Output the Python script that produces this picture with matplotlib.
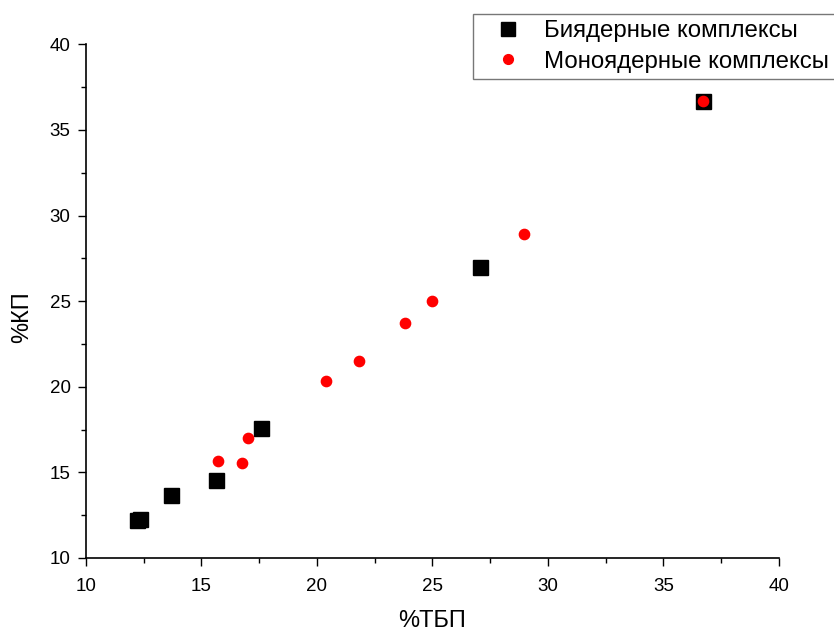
import matplotlib
matplotlib.use("Agg")
import matplotlib.pyplot as plt
from matplotlib.ticker import MultipleLocator

plt.rcParams['font.family'] = ['Liberation Sans', 'DejaVu Sans']

# Data
bi_x = [12.2, 12.35, 13.7, 15.65, 17.6, 27.05, 36.7]
bi_y = [12.2, 12.3, 13.65, 14.55, 17.6, 27.0, 36.7]
mono_x = [15.7, 16.75, 17.0, 20.4, 21.8, 23.8, 25.0, 28.95, 36.7]
mono_y = [15.65, 15.55, 17.0, 20.35, 21.5, 23.75, 25.0, 28.95, 36.7]

label_bi = "Биядерные комплексы"
label_mono = "Моноядерные комплексы"
xlabel = "%ТБП"
ylabel = "%КП"

fig = plt.figure(figsize=(8.34, 6.33), dpi=100)
ax = fig.add_axes([0.103, 0.1185, 0.831, 0.8115])

ax.plot(bi_x, bi_y, linestyle='none', marker='s', markersize=10.8,
        color='black', label=label_bi, zorder=2)
ax.plot(mono_x, mono_y, linestyle='none', marker='o', markersize=7.4,
        color='#ff0000', label=label_mono, zorder=3)

ax.set_xlim(10, 40)
ax.set_ylim(10, 40)
ax.xaxis.set_major_locator(MultipleLocator(5))
ax.yaxis.set_major_locator(MultipleLocator(5))
ax.xaxis.set_minor_locator(MultipleLocator(2.5))
ax.yaxis.set_minor_locator(MultipleLocator(2.5))

for s in ['top', 'right']:
    ax.spines[s].set_visible(False)
for s in ['left', 'bottom']:
    ax.spines[s].set_linewidth(1.2)
ax.tick_params(which='major', direction='out', length=6, width=1.0, labelsize=13.5)
ax.tick_params(axis='x', which='major', pad=8.5)
ax.tick_params(axis='y', which='major', pad=5)
ax.tick_params(which='minor', direction='out', length=3.5, width=1.0)

ax.set_xlabel(xlabel, fontsize=17, labelpad=11)
ax.set_ylabel(ylabel, fontsize=17, labelpad=14)
ax.yaxis.set_label_coords(-0.076, 0.469)

leg = fig.legend(loc='upper left', bbox_to_anchor=(473 / 834, 1 - 14 / 633),
                 bbox_transform=fig.transFigure, fontsize=17.3,
                 frameon=True, fancybox=False, edgecolor='#555555',
                 handlelength=2.42, handletextpad=0.29, borderpad=0.25,
                 borderaxespad=0.0, labelspacing=0.36, markerscale=0.95)
leg.get_frame().set_linewidth(1.0)

fig.savefig("out.png", dpi=100)
